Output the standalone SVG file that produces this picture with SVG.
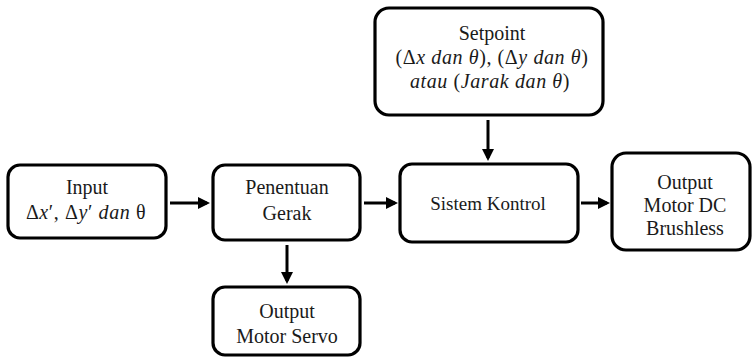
<svg xmlns="http://www.w3.org/2000/svg" width="754" height="361" viewBox="0 0 754 361" font-family="Liberation Serif">
  <style>
    .box { fill: #fff; stroke: #000; stroke-width: 3.2; }
    text { font-family: Liberation Serif; font-size: 20px; fill: #1a1a1a; text-anchor: middle; }
    .s { font-size: 19px; }
    .m { letter-spacing: 0.6px; }
    .i { font-style: italic; }
    .line { stroke: #000; stroke-width: 3; fill: none; }
  </style>
  <defs>
    <marker id="arrow" markerWidth="4" markerHeight="4" refX="3" refY="2" orient="auto" markerUnits="strokeWidth">
      <path d="M0,0 L4,2 L0,4 Z" fill="#000"/>
    </marker>
  </defs>
  <rect width="754" height="361" fill="#fff"/>

  <g id="connectors">
    <line class="line" x1="170" y1="203" x2="207" y2="203" marker-end="url(#arrow)"/>
    <line class="line" x1="364" y1="203" x2="395" y2="203" marker-end="url(#arrow)"/>
    <line class="line" x1="287" y1="245" x2="287" y2="281" marker-end="url(#arrow)"/>
    <line class="line" x1="488" y1="120" x2="488" y2="158" marker-end="url(#arrow)"/>
    <line class="line" x1="581" y1="203" x2="607" y2="203" marker-end="url(#arrow)"/>
  </g>

  <g id="input">
    <rect class="box" x="8" y="165" width="158" height="73" rx="12"/>
    <text x="87" y="194">Input</text>
    <text class="m" x="86" y="219">Δ<tspan class="i">x</tspan>′, Δ<tspan class="i">y</tspan>′ <tspan class="i">dan</tspan> θ</text>
  </g>

  <g id="penentuan-gerak">
    <rect class="box" x="213" y="165" width="147" height="75" rx="12"/>
    <text x="287" y="194">Penentuan</text>
    <text x="287" y="220">Gerak</text>
  </g>

  <g id="output-servo">
    <rect class="box" x="213" y="287" width="147" height="68" rx="12"/>
    <text x="287" y="318">Output</text>
    <text x="287" y="343">Motor Servo</text>
  </g>

  <g id="setpoint">
    <rect class="box" x="375" y="8" width="228" height="107" rx="14"/>
    <text x="492" y="40">Setpoint</text>
    <text class="m" x="492" y="64">(Δ<tspan class="i">x dan θ</tspan>), (Δ<tspan class="i">y dan θ</tspan>)</text>
    <text class="m" x="490" y="88"><tspan class="i">atau</tspan> (<tspan class="i">Jarak dan θ</tspan>)</text>
  </g>

  <g id="sistem-kontrol">
    <rect class="box" x="400" y="164" width="178" height="78" rx="12"/>
    <text class="s" x="488" y="210">Sistem Kontrol</text>
  </g>

  <g id="output-bldc">
    <rect class="box" x="612" y="153" width="138" height="97" rx="14"/>
    <text x="685" y="189">Output</text>
    <text x="685" y="212">Motor DC</text>
    <text x="685" y="235">Brushless</text>
  </g>
</svg>
